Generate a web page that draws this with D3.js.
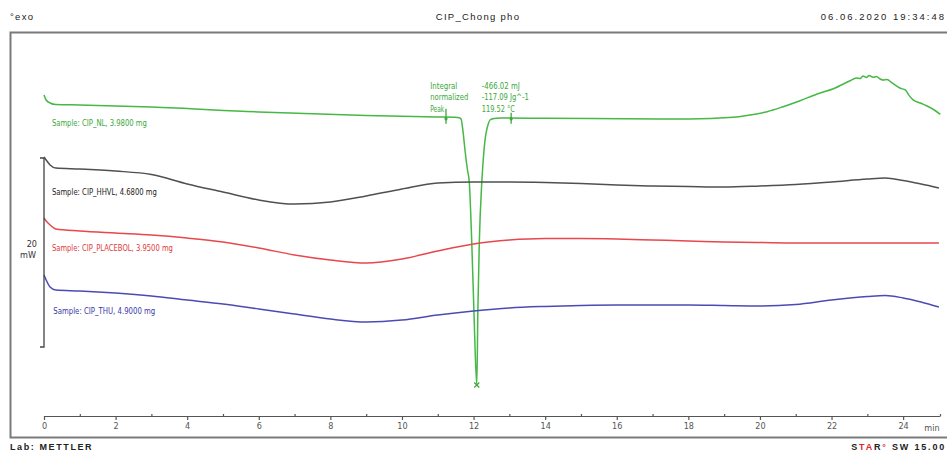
<!DOCTYPE html>
<head>
  <title>DSC CIP_Chong pho</title>
  <meta charset="utf-8">
  <style>
    body { margin: 0; background: #ffffff; }
    text { font-family: "Liberation Sans Narrow", "DejaVu Sans Condensed", "Liberation Sans", sans-serif; }
    .head { font-family: "Liberation Sans", Arial, sans-serif; font-size: 9.5px; fill: #222; letter-spacing: 1.3px; }
    .axis path.domain, .axis line { stroke: #555; stroke-width: 1.2px; }
    .axis text { font-size: 9px; fill: #555; }
  </style>
</head>
<body>
  <script src="https://cdn.jsdelivr.net/npm/d3@7"></script>
  <script>
    // time grid (min) shared by the three smooth curves
    var timeMin = [0, 0.06, 0.17, 0.33, 1, 2, 3, 4, 5, 6, 7, 8, 9, 10, 11, 12, 13, 14, 15, 16, 17, 18, 19, 20, 21, 22, 23, 23.5, 24, 24.5, 25];
    var hhvlMW = [20.11, 19.79, 19.26, 18.94, 18.84, 18.62, 18.25, 17.25, 16.40, 15.56, 15.13, 15.34, 15.98, 16.72, 17.35, 17.46, 17.46, 17.41, 17.30, 17.14, 17.04, 16.98, 16.93, 17.04, 17.20, 17.46, 17.78, 17.88, 17.62, 17.25, 16.83];
    var placeboMW = [13.65, 13.33, 12.91, 12.49, 12.28, 12.06, 11.85, 11.53, 11.11, 10.48, 9.74, 9.21, 8.89, 9.31, 10.16, 10.90, 11.32, 11.48, 11.48, 11.43, 11.32, 11.22, 11.11, 11.06, 11.01, 11.01, 11.01, 11.01, 11.01, 11.01, 11.01];
    var thuMW = [7.62, 7.09, 6.35, 6.03, 5.93, 5.71, 5.40, 4.97, 4.55, 4.02, 3.49, 2.96, 2.65, 2.86, 3.39, 3.81, 4.13, 4.29, 4.39, 4.44, 4.44, 4.44, 4.39, 4.34, 4.50, 4.97, 5.34, 5.45, 5.19, 4.76, 4.23];

    // CIP_NL has its own grid because of the sharp melting peak
    var nlTime = [0, 0.06, 0.17, 0.33, 1, 3, 6, 9, 11, 11.48, 11.60, 11.65, 11.71, 11.76, 11.83, 11.88, 11.95, 12.01, 12.09, 12.12, 12.16, 12.23, 12.27, 12.32, 12.35, 12.41, 12.46, 12.57, 12.74, 14, 18, 19.25, 19.73, 20.20, 20.65, 21.12, 21.60, 22.05, 22.52, 22.69, 22.80, 22.88, 22.97, 23.05, 23.16, 23.25, 23.36, 23.44, 23.55, 23.69, 23.92, 24.06, 24.17, 24.28, 24.48, 24.67, 24.87, 25.04];
    var nlMW = [26.67, 26.14, 25.82, 25.66, 25.61, 25.40, 24.87, 24.50, 24.34, 24.31, 24.25, 24.13, 22.65, 20.85, 18.73, 17.46, 11.01, 3.81, -4.02, 3.81, 11.01, 17.46, 19.79, 21.90, 22.65, 23.60, 24.02, 24.18, 24.23, 24.20, 24.13, 24.31, 24.55, 24.90, 25.43, 26.06, 26.77, 27.33, 28.18, 28.47, 28.41, 28.68, 28.52, 28.73, 28.54, 28.62, 28.36, 28.25, 28.31, 27.94, 27.38, 27.20, 26.60, 26.15, 25.82, 25.50, 25.08, 24.62];

    var sampleNames = ["Sample: CIP_NL, 3.9800 mg", "Sample: CIP_HHVL, 4.6800 mg", "Sample: CIP_PLACEBOL, 3.9500 mg", "Sample: CIP_THU, 4.9000 mg"];
    var sampleColors = ["#45b845", "#505050", "#e8474c", "#4b4bb5"];
    var labelColors = ["#3aa83a", "#222222", "#e03a3a", "#3a3aa8"];

    var tickValues = [0, 2, 4, 6, 8, 10, 12, 14, 16, 18, 20, 22, 24];
    var minorTicks = [1, 3, 5, 7, 9, 11, 13, 15, 17, 19, 21, 23, 25.03];

    // peak evaluation of CIP_NL
    var limitTimes = [11.23, 13.05];
    var peakTime = 12.09, peakMW = -4.02;
    var evalNames = ["Integral", "normalized", "Peak"];
    var evalValues = ["-466.02 mJ", "-117.09 Jg^-1", "119.52 °C"];

    var width = 947, height = 452;

    var svg = d3.select("body").append("svg")
      .attr("width", width)
      .attr("height", height);

    // frame round the plot
    svg.append("rect")
      .attr("x", 10.5).attr("y", 32.5)
      .attr("width", 950).attr("height", 405)
      .attr("fill", "none")
      .attr("stroke", "#7a7a7a")
      .attr("stroke-width", 2);

    var x = d3.scaleLinear().domain([0, 25.03]).range([44, 940]);
    var y = d3.scaleLinear().domain([0, 20]).range([347, 158]);

    var line = d3.line()
      .x(function (d) { return x(d[0]); })
      .y(function (d) { return y(d[1]); })
      .curve(d3.curveMonotoneX);

    var curves = [
      d3.zip(nlTime, nlMW),
      d3.zip(timeMin, hhvlMW),
      d3.zip(timeMin, placeboMW),
      d3.zip(timeMin, thuMW)
    ];

    svg.selectAll(".curve")
      .data(curves)
      .enter().append("path")
      .attr("class", "curve")
      .attr("d", line)
      .attr("fill", "none")
      .attr("stroke", function (d, i) { return sampleColors[i]; })
      .attr("stroke-width", 1.5);

    // sample labels sit just under the start of each curve
    var labelLevels = [23.75, 16.45, 10.5, 3.8];
    var labelWidths = [95, 105, 121, 102];
    svg.selectAll(".sample")
      .data(sampleNames)
      .enter().append("text")
      .attr("class", "sample")
      .attr("x", function (d, i) { return x(i == 3 ? 0.26 : 0.22); })
      .attr("y", function (d, i) { return y(labelLevels[i]); })
      .attr("dy", "0.35em")
      .attr("textLength", function (d, i) { return labelWidths[i]; })
      .attr("lengthAdjust", "spacingAndGlyphs")
      .style("font-size", "9.5px")
      .style("fill", function (d, i) { return labelColors[i]; })
      .text(function (d) { return d; });

    // x axis
    var axisY = 416;
    var xAxis = d3.axisBottom(x)
      .tickValues(tickValues)
      .tickSize(4)
      .tickSizeOuter(0)
      .tickPadding(3)
      .tickFormat(d3.format("d"));
    svg.append("g")
      .attr("class", "axis")
      .attr("transform", "translate(0," + axisY + ")")
      .call(xAxis);

    svg.append("g")
      .attr("class", "axis")
      .attr("transform", "translate(0," + (axisY - 2) + ")")
      .call(d3.axisBottom(x).tickValues(minorTicks).tickSize(2).tickFormat(""))
      .select(".domain").remove();

    svg.append("text")
      .attr("x", 932).attr("y", axisY + 12)
      .attr("dy", "0.35em")
      .attr("text-anchor", "middle")
      .style("font-size", "9px")
      .style("fill", "#555")
      .text("min");

    // 20 mW scale bar
    svg.append("path")
      .attr("d", "M" + (x(0) - 4) + "," + y(20) + "H" + x(0) + "V" + y(0) + "H" + (x(0) - 4))
      .attr("fill", "none")
      .attr("stroke", "#444")
      .attr("stroke-width", 1.3);
    svg.append("text")
      .attr("x", 37).attr("y", y(10.9))
      .attr("dy", "0.35em")
      .attr("text-anchor", "end")
      .style("font-size", "9px")
      .style("fill", "#333")
      .text("20");
    svg.append("text")
      .attr("x", 36).attr("y", y(9.8))
      .attr("dy", "0.35em")
      .attr("text-anchor", "end")
      .style("font-size", "9px")
      .style("fill", "#333")
      .text("mW");

    // peak evaluation marks
    var baseMW = 24.25;
    svg.selectAll(".limit")
      .data(limitTimes)
      .enter().append("line")
      .attr("class", "limit")
      .attr("x1", function (d) { return x(d); })
      .attr("x2", function (d) { return x(d); })
      .attr("y1", function (d, i) { return y(baseMW) - (i == 0 ? 9 : 5); })
      .attr("y2", function (d) { return y(baseMW) + 6; })
      .attr("stroke", "#3aa83a")
      .attr("stroke-width", 1.3);
    svg.selectAll(".limitDot")
      .data(limitTimes)
      .enter().append("circle")
      .attr("cx", function (d) { return x(d); })
      .attr("cy", function (d) { return y(baseMW) + 1; })
      .attr("r", 1.6)
      .attr("fill", "#3aa83a");

    var px = x(peakTime), py = y(peakMW);
    svg.append("path")
      .attr("d", "M" + (px - 2.5) + "," + (py - 2.5) + "L" + (px + 2.5) + "," + (py + 2.5) +
        "M" + (px + 2.5) + "," + (py - 2.5) + "L" + (px - 2.5) + "," + (py + 2.5))
      .attr("stroke", "#3aa83a")
      .attr("stroke-width", 1.2);

    var rowMW = [27.7, 26.45, 25.25];
    var nameWidths = [27, 38, 14];
    var valueWidths = [38, 47, 33];
    svg.selectAll(".evalName")
      .data(evalNames)
      .enter().append("text")
      .attr("x", x(10.79))
      .attr("y", function (d, i) { return y(rowMW[i]); })
      .attr("dy", "0.35em")
      .attr("textLength", function (d, i) { return nameWidths[i]; })
      .attr("lengthAdjust", "spacingAndGlyphs")
      .style("font-size", "9.5px")
      .style("fill", "#3aa83a")
      .text(function (d) { return d; });
    svg.selectAll(".evalValue")
      .data(evalValues)
      .enter().append("text")
      .attr("x", x(12.23))
      .attr("y", function (d, i) { return y(rowMW[i]); })
      .attr("dy", "0.35em")
      .attr("textLength", function (d, i) { return valueWidths[i]; })
      .attr("lengthAdjust", "spacingAndGlyphs")
      .style("font-size", "9.5px")
      .style("fill", "#3aa83a")
      .text(function (d) { return d; });

    // header and footer
    svg.append("text").attr("class", "head").attr("x", 10).attr("y", 20).text("°exo");
    svg.append("text").attr("class", "head").attr("x", 478).attr("y", 20)
      .attr("text-anchor", "middle").text("CIP_Chong pho");
    svg.append("text").attr("class", "head").attr("x", 946).attr("y", 20)
      .attr("text-anchor", "end").style("letter-spacing", "2px").text("06.06.2020 19:34:48");
    svg.append("text").attr("class", "head").attr("x", 10).attr("y", 450)
      .style("font-size", "9px").style("font-weight", "bold").style("letter-spacing", "1.6px").text("Lab: METTLER");

    var star = svg.append("text").attr("class", "head").attr("x", 946).attr("y", 450)
      .attr("text-anchor", "end").style("font-size", "9px").style("font-weight", "bold").style("letter-spacing", "1.8px");
    star.append("tspan").text("S");
    star.append("tspan").style("fill", "#e0252b").text("TA");
    star.append("tspan").text("R");
    star.append("tspan").style("fill", "#e0252b").text("°");
    star.append("tspan").text(" SW 15.00");
  </script>
</body>
